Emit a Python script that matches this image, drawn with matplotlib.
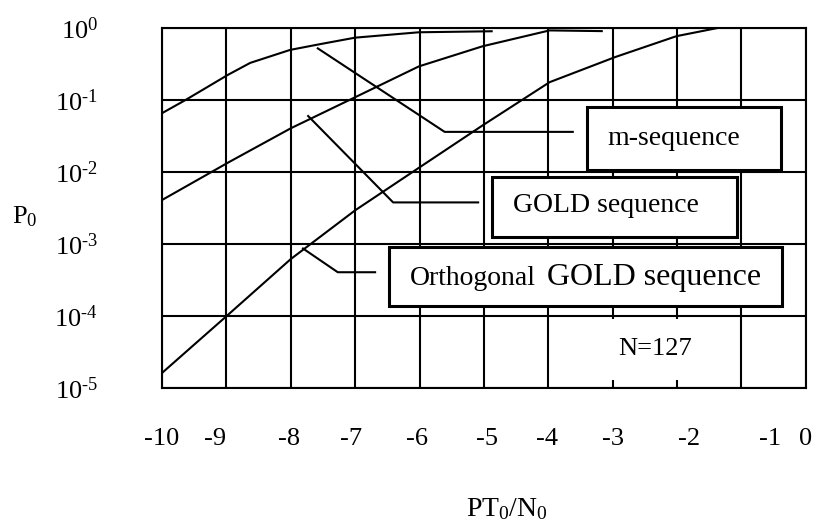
import matplotlib
matplotlib.use('Agg')
import matplotlib.pyplot as plt
from matplotlib.patches import Rectangle

plt.rcParams['font.family'] = 'Liberation Serif'
plt.rcParams['mathtext.fontset'] = 'custom'
plt.rcParams['mathtext.rm'] = 'Liberation Serif'
plt.rcParams['mathtext.it'] = 'Liberation Serif:italic'

# curves
m_x = [-10, -9.64, -8.98, -8.63, -8.01, -7.55, -7.00, -6.01, -4.88]
m_y = [0.066, 0.10, 0.224, 0.330, 0.500, 0.600, 0.740, 0.879, 0.908]

gold_x = [-10, -8.96, -8.00, -7.00, -6.01, -5.02, -3.98, -3.17]
gold_y = [0.0041, 0.0138, 0.0407, 0.110, 0.295, 0.562, 0.933, 0.912]

orth_x = [-10, -8.96, -8.00, -7.00, -6.01, -5.02, -3.98, -2.96, -2.01, -1.39]
orth_y = [1.62e-5, 1.07e-4, 6.2e-4, 2.95e-3, 0.0115, 0.0447, 0.178, 0.398, 0.776, 1.0]

# leader lines from curve to label box
m_lead_x = [-7.58, -5.61, -3.62]
m_lead_y = [0.525, 0.0363, 0.0363]
gold_lead_x = [-7.73, -6.41, -5.09]
gold_lead_y = [0.0603, 0.0038, 0.0038]
orth_lead_x = [-7.81, -7.27, -6.69]
orth_lead_y = [8.7e-4, 4.07e-4, 4.07e-4]

# label boxes: x0, x1, y0, y1
m_box = (-3.40, -0.39, 0.0107, 0.0794)
gold_box = (-4.88, -1.07, 0.00126, 0.0085)
orth_box = (-6.48, -0.37, 1.38e-4, 9.12e-4)

grid_x = [-10, -9, -8, -7, -6, -5, -4, -3, -2, -1, 0]
grid_y = [1e-5, 1e-4, 1e-3, 1e-2, 1e-1, 1e0]
xtick_pos = [-10.0, -9.18, -8.03, -7.07, -6.04, -4.95, -4.02, -3.00, -1.82, -0.56, 0.0]
xtick_labels = ['-10', '-9', '-8', '-7', '-6', '-5', '-4', '-3', '-2', '-1', '0']
ytick_labels = [r'$\mathregular{10^{\text{-}5}}$', r'$\mathregular{10^{\text{-}4}}$',
                r'$\mathregular{10^{\text{-}3}}$', r'$\mathregular{10^{\text{-}2}}$',
                r'$\mathregular{10^{\text{-}1}}$', r'$\mathregular{10^{0}}$']

fig = plt.figure(figsize=(8.14, 5.23), dpi=100)
ax = fig.add_axes([0.199, 0.258, 0.791, 0.688])
ax.set_yscale('log')

lw = 1.5
for gx in grid_x:
    ax.axvline(gx, color='black', lw=lw, zorder=1)
for gy in grid_y:
    ax.axhline(gy, color='black', lw=lw, zorder=1)

# blank patch behind N=127 (the -3 and -2 lines stop there)
ax.add_patch(Rectangle((-3.2, 1.29e-5), 1.55, 9.12e-5 - 1.29e-5, facecolor='white',
                       edgecolor='none', zorder=1.5))

ax.plot(m_x, m_y, color='black', lw=lw, zorder=2)
ax.plot(gold_x, gold_y, color='black', lw=lw, zorder=2)
ax.plot(orth_x, orth_y, color='black', lw=lw, zorder=2)

ax.plot(m_lead_x, m_lead_y, color='black', lw=lw, zorder=2)
ax.plot(gold_lead_x, gold_lead_y, color='black', lw=lw, zorder=2)
ax.plot(orth_lead_x, orth_lead_y, color='black', lw=lw, zorder=2)

for x0, x1, y0, y1 in [m_box, gold_box, orth_box]:
    ax.add_patch(Rectangle((x0, y0), x1 - x0, y1 - y0, facecolor='white',
                           edgecolor='black', lw=2.2, zorder=3))

ax.text(-3.09, 0.0295, 'm-sequence', fontsize=20, va='center', ha='left', zorder=4)
ax.text(-4.55, 0.00347, 'GOLD sequence', fontsize=20, va='center', ha='left', zorder=4)
ax.text(-6.15, 2.69e-4, 'Orthogonal', fontsize=20, va='baseline', ha='left', zorder=4)
ax.text(-4.02, 2.69e-4, 'GOLD sequence', fontsize=23, va='baseline', ha='left', zorder=4)
ax.text(-2.92, 2.88e-5, 'N=127', fontsize=19, va='baseline', ha='left', zorder=4)

ax.set_xticks(xtick_pos)
ax.set_xticklabels(xtick_labels, fontsize=19)
ax.set_yticks(grid_y)
ax.set_yticklabels(ytick_labels, fontsize=19)
ax.minorticks_off()
ax.set_xlim(-10, 0)
ax.set_ylim(1e-5, 1)
ax.tick_params(axis='x', length=0, pad=29)
ax.tick_params(axis='y', length=0, pad=46)
for sp in ax.spines.values():
    sp.set_linewidth(lw)
    sp.set_zorder(5)

fig.text(12 / 814, 1 - 217 / 523, r'$\mathregular{P_0}$', fontsize=19, va='center', ha='left')
fig.text(507 / 814, 1 - 509 / 523, r'$\mathregular{PT_0/N_0}$', fontsize=20, va='center', ha='center')

fig.savefig('out.png', dpi=100)
